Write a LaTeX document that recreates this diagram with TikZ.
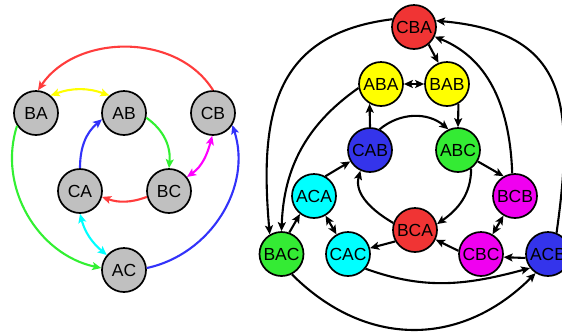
\documentclass[tikz,border=0pt]{standalone}
\usepackage{fontspec}
\setmainfont{Liberation Sans}
\usetikzlibrary{arrows.meta}

\definecolor{nodegray}{RGB}{192,192,192}
\definecolor{fred}{RGB}{240,52,52}
\definecolor{fyellow}{RGB}{255,255,0}
\definecolor{fblue}{RGB}{52,52,235}
\definecolor{fgreen}{RGB}{52,235,52}
\definecolor{fcyan}{RGB}{0,255,255}
\definecolor{fmagenta}{RGB}{240,0,240}
\definecolor{ered}{RGB}{255,60,60}
\definecolor{eyellow}{RGB}{255,255,0}
\definecolor{egreen}{RGB}{50,240,50}
\definecolor{eblue}{RGB}{50,50,250}
\definecolor{ecyan}{RGB}{0,255,255}
\definecolor{emagenta}{RGB}{255,0,255}

\begin{document}
\begin{tikzpicture}[x=1pt,y=1pt,
  state/.style={circle, draw=black, line width=1.7pt, minimum size=44pt,
    inner sep=0pt, font=\fontsize{17.5}{19}\selectfont},
  tip/.tip={Stealth[length=9pt,width=8pt,inset=2pt]},
  link/.style={line width=2.1pt, -tip},
  twoway/.style={line width=2.1pt, tip-tip},
]
\useasboundingbox (0,0) rectangle (562,-333);
\clip (0,0) rectangle (562,-333);

% ---------- left graph ----------
\node[state, fill=nodegray] (BA) at (36,-113) {BA};
\node[state, fill=nodegray] (AB) at (124,-113) {AB};
\node[state, fill=nodegray] (CB) at (213,-113) {CB};
\node[state, fill=nodegray] (CA) at (80,-191) {CA};
\node[state, fill=nodegray] (BC) at (169,-191) {BC};
\node[state, fill=nodegray] (AC) at (124,-270) {AC};

\draw[link, ered] (CB.north) to[out=122, in=56] (BA.85);
\draw[link, egreen] (BA.214) to[out=252, in=168] (AC.175);
\draw[link, eblue] (AC.5) to[out=12, in=-72] (CB.-32);
\draw[link, egreen] (AB.-12) to[out=-35, in=85] (BC.north);
\draw[link, ered] (BC.195) to[out=200, in=-20] (CA.-15);
\draw[link, eblue] (CA.north) to[out=90, in=220] (AB.196);
\draw[twoway, eyellow] (BA.50) to[out=20, in=160] (AB.130);
\draw[twoway, emagenta] (CB.268) to[out=255, in=35] (BC.38);
\draw[twoway, ecyan] (CA.south) to[out=-75, in=140] (AC.139);

% ---------- right graph ----------
\node[state, fill=fred] (CBA) at (414,-27) {CBA};
\node[state, fill=fyellow] (ABA) at (381,-84) {ABA};
\node[state, fill=fyellow] (BAB) at (447,-84) {BAB};
\node[state, fill=fblue] (CAB) at (370,-150) {CAB};
\node[state, fill=fgreen] (ABC) at (458,-150) {ABC};
\node[state, fill=fcyan] (ACA) at (314,-196) {ACA};
\node[state, fill=fmagenta] (BCB) at (515,-196) {BCB};
\node[state, fill=fgreen] (BAC) at (281.5,-254) {BAC};
\node[state, fill=fcyan] (CAC) at (348,-254) {CAC};
\node[state, fill=fred] (BCA) at (415,-230) {BCA};
\node[state, fill=fmagenta] (CBC) at (481,-254) {CBC};
\node[state, fill=fblue] (ACB) at (548,-254) {ACB};

% straight links
\draw[link] (CBA.-50) -- (BAB.112);
\draw[link] (BAC.70) -- (ACA.232);
\draw[link] (ACB.190) -- (CBC.352);
\draw[twoway] (ABA) -- (BAB);
\draw[twoway] (ACA) -- (CAC);
\draw[twoway] (BCB) -- (CBC);
\draw[link] (CAB.north) -- (ABA.240);
\draw[link] (BCA.210) -- (CAC.15);
\draw[link] (ABC.330) -- (BCB.120);
\draw[link] (BAB.-60) -- (ABC.north);
\draw[link] (ACA.60) -- (CAB.210);
\draw[link] (CBC.172) -- (BCA.335);

% inner cycle
\draw[link] (CAB.65) to[out=40, in=140] (ABC.115);
\draw[link] (ABC.-55) to[out=-90, in=35] (BCA.15);
\draw[link] (BCA.162) to[out=150, in=255] (CAB.245);

% outer arcs
\draw[link] (CBA.160) to[out=187, in=95, looseness=1.24] (BAC.121);
\draw[link] (BAC.-63) to[out=-45, in=225, looseness=1.1] (ACB.237);
\draw[link] (ACB.68) to[out=82, in=-5, looseness=1.38] (CBA.16);
\draw[link] (BCB.97) to[out=92, in=-22] (CBA.-25);
\draw[link] (ABA.190) to[out=215, in=88] (BAC.90);
\draw[link] (CAC.-40) to[out=-20, in=195] (ACB.218);
\end{tikzpicture}
\end{document}
